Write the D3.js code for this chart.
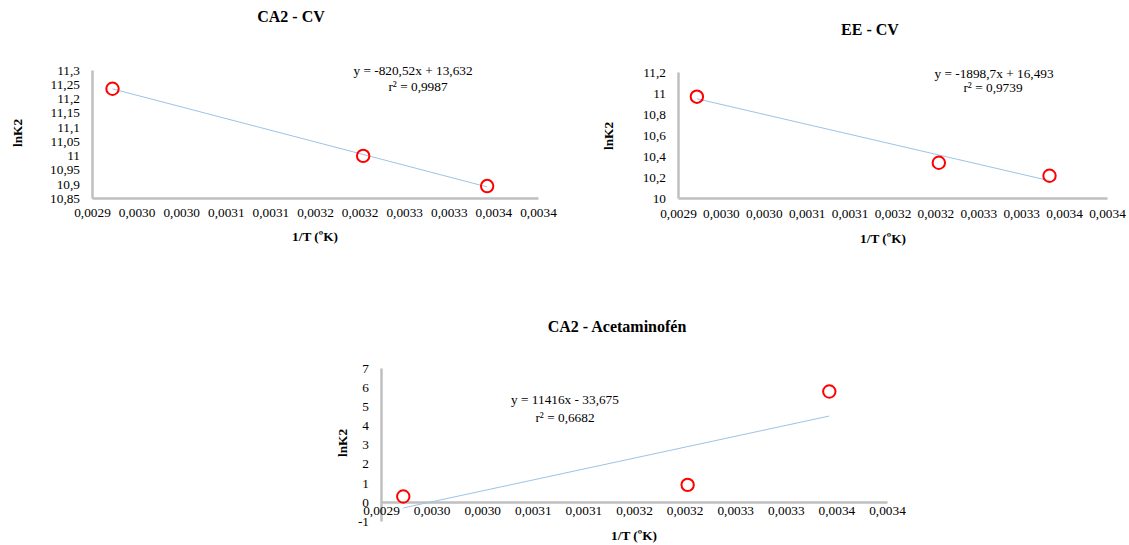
<!DOCTYPE html>
<html>
<head>
<meta charset="utf-8">
<script src="https://cdn.jsdelivr.net/npm/d3@7"></script>
<style>
  html, body { margin: 0; padding: 0; background: #fff; }
  svg, svg text { font-family: "Liberation Serif", "Times New Roman", "DejaVu Serif", serif !important; }
</style>
</head>
<body>
<svg id="chart" width="1129" height="545"></svg>
<script>
// ---------- DATA ----------
const titles = ["CA2 - CV", "EE - CV", "CA2 - Acetaminofén"];
const xAxisTitle = "1/T (ºK)";
const yAxisTitle = "lnK2";

const invT_CA2_CV = [0.002923, 0.003204, 0.003343];
const lnK2_CA2_CV = [11.234, 10.998, 10.892];

const invT_EE_CV = [0.002922, 0.003204, 0.003333];
const lnK2_EE_CV = [10.965, 10.336, 10.212];

const invT_CA2_Acet = [0.002922, 0.003203, 0.003343];
const lnK2_CA2_Acet = [0.28, 0.89, 5.77];

const trendSlopes = [-820.52, -1898.7, 11416];
const trendIntercepts = [13.632, 16.493, -33.675];
const equationLabels = ["y = -820,52x + 13,632", "y = -1898,7x + 16,493", "y = 11416x - 33,675"];
const r2Labels = ["r² = 0,9987", "r² = 0,9739", "r² = 0,6682"];

const xTickValues = [0.0029, 0.00295, 0.0030, 0.00305, 0.0031, 0.00315, 0.0032, 0.00325, 0.0033, 0.00335, 0.0034];
const xTickLabels = ["0,0029", "0,0030", "0,0030", "0,0031", "0,0031", "0,0032", "0,0032", "0,0033", "0,0033", "0,0034", "0,0034"];

const yTicks_CA2_CV = [10.85, 10.9, 10.95, 11, 11.05, 11.1, 11.15, 11.2, 11.25, 11.3];
const yTicks_EE_CV = [10, 10.2, 10.4, 10.6, 10.8, 11, 11.2];
const yTicks_CA2_Acet = [-1, 0, 1, 2, 3, 4, 5, 6, 7];

// ---------- LAYOUT ----------
const charts = [
  { x: invT_CA2_CV, y: lnK2_CA2_CV, yTicks: yTicks_CA2_CV,
    left: 92, right: 538, top: 70, bottom: 198, xAxisAt: "bottom", xPad: 10,
    title: [291, 22], eq: [413, 75], r2: [418, 91], xt: [315, 241], yt: [18, 133] },
  { x: invT_EE_CV, y: lnK2_EE_CV, yTicks: yTicks_EE_CV,
    left: 678, right: 1107, top: 72, bottom: 198, xAxisAt: "bottom", xPad: 11,
    title: [870, 35], eq: [994, 78], r2: [993, 92], xt: [883, 243], yt: [609, 136] },
  { x: invT_CA2_Acet, y: lnK2_CA2_Acet, yTicks: yTicks_CA2_Acet,
    left: 381, right: 887, top: 368, bottom: 521, xAxisAt: 0, xPad: 3.5,
    title: [617, 332], eq: [565, 404], r2: [565, 422], xt: [634, 540], yt: [343, 443] }
];

const svg = d3.select("#chart");
const axisColor = "#bfbfbf";
const serif = '"Liberation Serif", "Times New Roman", serif';
const fmt = v => String(v).replace(".", ",");

charts.forEach((c, i) => {
  const g = svg.append("g");
  const yMin = d3.min(c.yTicks), yMax = d3.max(c.yTicks);
  const xs = d3.scaleLinear().domain([xTickValues[0], xTickValues[xTickValues.length - 1]]).range([c.left, c.right]);
  const ys = d3.scaleLinear().domain([yMin, yMax]).range([c.bottom, c.top]);

  // Y axis
  const yAxis = d3.axisLeft(ys).tickValues(c.yTicks).tickFormat(fmt).tickSize(0).tickPadding(12);
  const yg = g.append("g").attr("transform", `translate(${c.left},0)`).call(yAxis)
    .attr("font-family", null).attr("font-size", null);
  yg.select(".domain").attr("stroke", axisColor).attr("stroke-width", 2.5);
  yg.selectAll("text").style("font-size", "13.3px").style("font-family", serif).attr("fill", "#000");

  // X axis
  const xAxisY = c.xAxisAt === "bottom" ? c.bottom : ys(c.xAxisAt);
  const xAxis = d3.axisBottom(xs).tickValues(xTickValues).tickFormat((d, k) => xTickLabels[k]).tickSize(0).tickPadding(c.xPad);
  const xg = g.append("g").attr("transform", `translate(0,${xAxisY})`).call(xAxis)
    .attr("font-family", null).attr("font-size", null);
  xg.select(".domain").attr("stroke", axisColor).attr("stroke-width", 2.5);
  xg.selectAll("text").style("font-size", "13.3px").style("font-family", serif).attr("fill", "#000");

  // Trend line
  const xr = d3.extent(c.x);
  const m = trendSlopes[i], b = trendIntercepts[i];
  g.append("line")
    .attr("x1", xs(xr[0])).attr("y1", ys(m * xr[0] + b))
    .attr("x2", xs(xr[1])).attr("y2", ys(m * xr[1] + b))
    .attr("stroke", "#9dc3e6").attr("stroke-width", 1);

  // Points
  g.selectAll("circle.pt").data(c.x.map((d, k) => [d, c.y[k]])).join("circle")
    .attr("class", "pt")
    .attr("cx", d => xs(d[0])).attr("cy", d => ys(d[1]))
    .attr("r", 6.2).attr("fill", "none").attr("stroke", "#ff0000").attr("stroke-width", 2);

  // Title
  g.append("text").attr("x", c.title[0]).attr("y", c.title[1]).attr("text-anchor", "middle")
    .style("font-family", serif).style("font-size", "16px").style("font-weight", "bold").text(titles[i]);

  // Equation
  g.append("text").attr("x", c.eq[0]).attr("y", c.eq[1]).attr("text-anchor", "middle")
    .style("font-family", serif).style("font-size", "13.3px").text(equationLabels[i]);
  g.append("text").attr("x", c.r2[0]).attr("y", c.r2[1]).attr("text-anchor", "middle")
    .style("font-family", serif).style("font-size", "13.3px").text(r2Labels[i]);

  // Axis titles
  g.append("text").attr("x", c.xt[0]).attr("y", c.xt[1]).attr("text-anchor", "middle")
    .style("font-family", serif).style("font-size", "13.3px").style("font-weight", "bold").text(xAxisTitle);
  g.append("text").attr("transform", `translate(${c.yt[0] + 4},${c.yt[1]}) rotate(-90)`)
    .attr("text-anchor", "middle")
    .style("font-family", serif).style("font-size", "13.3px").style("font-weight", "bold").text(yAxisTitle);
});
</script>
</body>
</html>
